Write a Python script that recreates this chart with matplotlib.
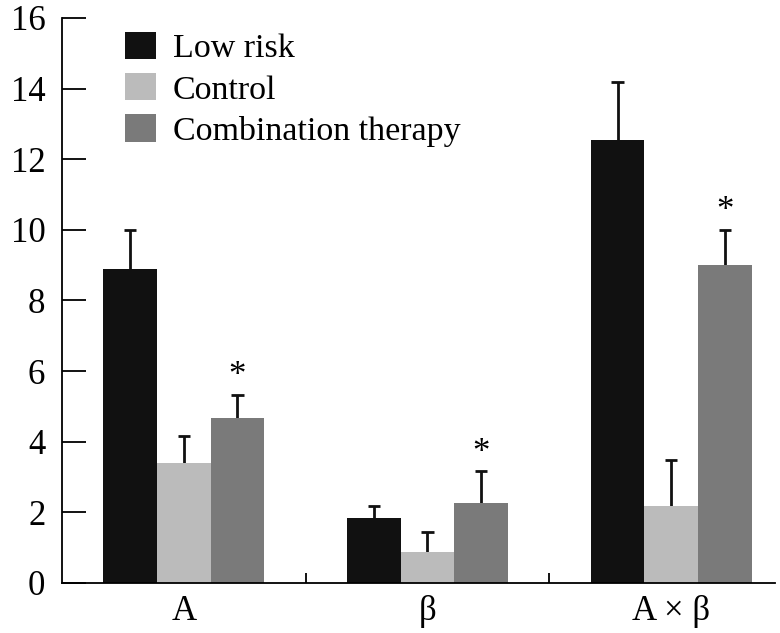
import matplotlib
matplotlib.use("Agg")
import matplotlib.pyplot as plt
import numpy as np
from matplotlib.patches import Patch

categories = ["A", "β", "A × β"]
series_names = ["Low risk", "Control", "Combination therapy"]
low_risk = [8.9, 1.83, 12.55]
low_risk_err = [1.1, 0.35, 1.65]
control = [3.4, 0.89, 2.19]
control_err = [0.77, 0.54, 1.28]
combo = [4.67, 2.27, 9.0]
combo_err = [0.66, 0.9, 1.0]
significant = [True, True, True]

colors = ["#111111", "#bbbbbb", "#7a7a7a"]

plt.rcParams['font.family'] = ['Liberation Serif', 'DejaVu Serif']

fig = plt.figure(figsize=(7.8, 6.33), dpi=100)
ax = fig.add_axes([0.0795, 0.079, 0.914, 0.8926])

x = np.arange(len(categories))
w = 0.22
cap = 0.025
vals = [low_risk, control, combo]
errs = [low_risk_err, control_err, combo_err]
for i, (v, e, c) in enumerate(zip(vals, errs, colors)):
    pos = x + (i - 1) * w
    v = np.array(v); e = np.array(e)
    ax.bar(pos, v, width=w, color=c, edgecolor='none', zorder=2)
    ax.vlines(pos, v, v + e, color='#111111', linewidth=2, zorder=1)
    ax.hlines(v + e, pos - cap, pos + cap, color='#111111', linewidth=2, zorder=1)

for j, s in enumerate(significant):
    if s:
        ax.annotate("*", (x[j] + w, combo[j] + combo_err[j]), xytext=(0, 1),
                    textcoords='offset points', ha='center', va='bottom', fontsize=25)

ax.set_ylim(0, 16)
ax.set_xlim(-0.5, 2.426)
ax.set_yticks(np.arange(0, 17, 2))
ax.set_xticks(x)
ax.set_xticklabels(categories)
ax.set_xticks([0.5, 1.5], minor=True)
ax.tick_params(axis='y', direction='in', length=17, width=1.3, pad=12, labelsize=25)
ax.tick_params(axis='x', which='major', length=0, pad=9, labelsize=25)
ax.tick_params(axis='x', which='minor', direction='in', length=7, width=1.3)
for s in ['top', 'right']:
    ax.spines[s].set_visible(False)
for s in ['left', 'bottom']:
    ax.spines[s].set_linewidth(1.3)

handles = [Patch(facecolor=c, edgecolor='none') for c in colors]
ax.legend(handles, series_names, loc='upper left', bbox_to_anchor=(0.088, 0.975),
          frameon=False, fontsize=24.5, handlelength=0.92, handleheight=0.85,
          labelspacing=0.26, handletextpad=0.5, borderaxespad=0, borderpad=0)

fig.savefig("out.png", dpi=100)
